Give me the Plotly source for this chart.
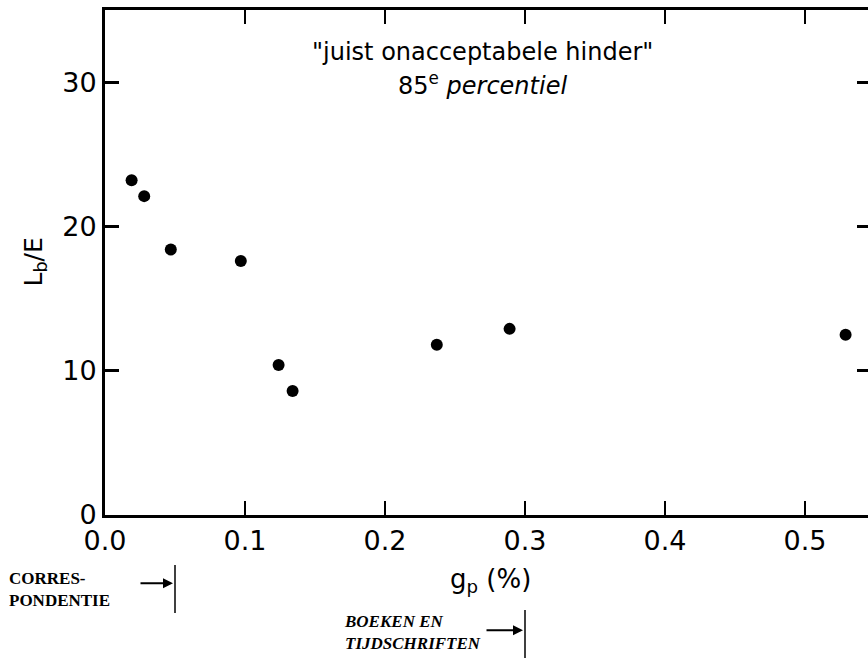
import plotly.graph_objects as go

# Data
gp = [0.019, 0.028, 0.047, 0.097, 0.124, 0.134, 0.237, 0.289, 0.529]
lb_e = [23.2, 22.1, 18.4, 17.6, 10.4, 8.6, 11.8, 12.9, 12.5]

x_ticks = [0.0, 0.1, 0.2, 0.3, 0.4, 0.5]
x_ticklabels = ["0.0", "0.1", "0.2", "0.3", "0.4", "0.5"]
y_ticks = [0, 10, 20, 30]
y_ticklabels = ["0", "10", "20", "30"]

# markers for usage categories on the g_p axis
category_x = [0.05, 0.3]
category_labels = ["CORRES-<br>PONDENTIE", "BOEKEN EN<br>TIJDSCHRIFTEN"]

x_range = [0, 0.545]
y_range = [0, 35]

FONT = "DejaVu Sans, Verdana, sans-serif"
SERIF = "Liberation Serif, DejaVu Serif, serif"

fig = go.Figure()
fig.add_trace(go.Scatter(
    x=gp, y=lb_e, mode="markers",
    marker=dict(color="black", size=12),
    showlegend=False, cliponaxis=False,
))
# invisible trace for right-side tick axis
fig.add_trace(go.Scatter(x=[None], y=[None], yaxis="y2", showlegend=False))

fig.update_layout(
    width=868, height=658,
    margin=dict(l=105, r=0, t=10, b=143),
    paper_bgcolor="white", plot_bgcolor="white",
    font=dict(family=FONT, color="black"),
    xaxis=dict(
        range=x_range, tickvals=x_ticks, ticktext=x_ticklabels,
        showline=True, linewidth=3, linecolor="black", mirror="ticks",
        ticks="inside", ticklen=14, tickwidth=2, tickcolor="black",
        showgrid=False, zeroline=False,
        tickfont=dict(size=27, family=FONT),
    ),
    yaxis=dict(
        range=y_range, tickvals=y_ticks, ticktext=y_ticklabels,
        showline=True, linewidth=3, linecolor="black",
        ticks="inside", ticklen=14, tickwidth=3, tickcolor="black",
        showgrid=False, zeroline=False,
        tickfont=dict(size=27, family=FONT),
    ),
    yaxis2=dict(
        range=y_range, overlaying="y", side="right",
        tickvals=[10, 20, 30], showticklabels=False,
        ticks="inside", ticklen=11, tickwidth=3, tickcolor="black",
        showline=False, showgrid=False, zeroline=False,
    ),
)

# axis titles
fig.add_annotation(
    x=0.505, y=-0.129, xref="paper", yref="paper", xanchor="center", yanchor="middle",
    text="g<sub>p</sub> (%)", showarrow=False, font=dict(size=26, family=FONT),
)
fig.add_annotation(
    x=-0.093, y=0.5, xref="paper", yref="paper", xanchor="center", yanchor="middle",
    text="L<sub>b</sub>/E", textangle=-90, showarrow=False, font=dict(size=25, family=FONT),
)

# in-plot caption
fig.add_annotation(
    x=0.495, y=0.917, xref="paper", yref="paper", xanchor="center", yanchor="middle",
    text='"juist onacceptabele hinder"',
    showarrow=False, font=dict(size=24, family=FONT),
)
fig.add_annotation(
    x=0.495, y=0.853, xref="paper", yref="paper", xanchor="center", yanchor="middle",
    text='85<sup>e</sup> <i>percentiel</i>',
    showarrow=False, font=dict(size=24, family=FONT),
)

label_pos = [(-0.128, -0.1485), (0.311, -0.232)]
arrow_y = [-0.135, -0.228]
arrow_len = [-36, -40]
line_y = [(-0.099, -0.194), (-0.188, -0.30)]
for cx, lab, (lx, ly), ay, al, (y0, y1), it in zip(category_x, category_labels, label_pos, arrow_y, arrow_len, line_y, [False, True]):
    fig.add_annotation(
        x=lx, y=ly, xref="paper", yref="paper", xanchor="left", yanchor="middle",
        text=(f"<b><i>{lab}</i></b>" if it else f"<b>{lab}</b>"), showarrow=False, align="left",
        font=dict(size=17, family=SERIF),
    )
    fig.add_annotation(
        x=cx, y=ay, xref="x", yref="paper", text="", showarrow=True,
        ax=al, ay=0, arrowhead=2, arrowsize=1, arrowwidth=2, arrowcolor="black",
        standoff=2,
    )
    fig.add_shape(
        type="line", xref="x", yref="paper", x0=cx, x1=cx, y0=y0, y1=y1,
        line=dict(color="black", width=1.5),
    )

fig.write_html("out.html")
